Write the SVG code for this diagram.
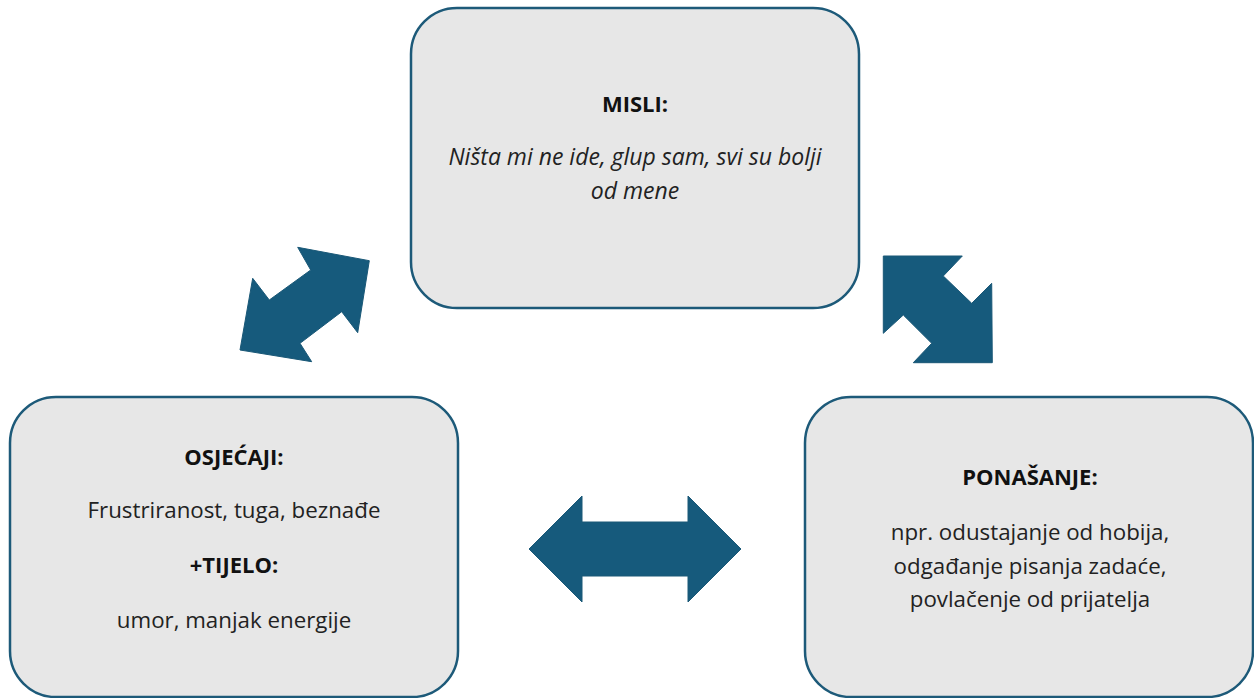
<svg xmlns="http://www.w3.org/2000/svg" width="1254" height="698" viewBox="0 0 1254 698">
<style>
.box{fill:#e7e7e7;stroke:#1d5a79;stroke-width:2.5}
.arrow{fill:#165a7c;stroke:#1a5877;stroke-width:1}
text{font-family:"Open Sans","Noto Sans",sans-serif;font-size:22.3px;fill:#222;text-anchor:middle}
.h{font-weight:bold;fill:#111;font-size:22px}
.i{font-style:italic;font-size:23px}
</style>
<rect width="1254" height="698" fill="#ffffff"/>
<g id="connectors">
<polygon class="arrow" points="297.7,247.3 369.3,260.7 357.7,332.7 341.7,311.7 300,343.3 311.7,361.7 240,350 252.7,278.3 269.3,300 310.7,270"/>
<polygon class="arrow" points="883.3,256 962.3,256 943.3,276 971.7,303.3 991.7,283.3 992.3,362.7 913.3,362.7 931.7,343.3 903.3,315 883.3,333.3"/>
<polygon class="arrow" points="529,549 582,496 582,522 688,522 688,496 741,549 688,602 688,576 582,576 582,602"/>
</g>
<g id="misli">
<rect class="box" x="411" y="8" width="448" height="300" rx="46"/>
<text class="h" x="635" y="112">MISLI:</text>
<text class="i" x="635" y="165">Ništa mi ne ide, glup sam, svi su bolji</text>
<text class="i" x="635" y="199">od mene</text>
</g>
<g id="osjecaji">
<rect class="box" x="10" y="397" width="448" height="300" rx="46"/>
<text class="h" x="234" y="465">OSJEĆAJI:</text>
<text x="234" y="518">Frustriranost, tuga, beznađe</text>
<text class="h" x="234" y="573">+TIJELO:</text>
<text x="234" y="628">umor, manjak energije</text>
</g>
<g id="ponasanje">
<rect class="box" x="805" y="397" width="448" height="300" rx="46"/>
<text class="h" x="1030" y="485">PONAŠANJE:</text>
<text x="1030" y="540">npr. odustajanje od hobija,</text>
<text x="1030" y="574">odgađanje pisanja zadaće,</text>
<text x="1030" y="607">povlačenje od prijatelja</text>
</g>
</svg>
